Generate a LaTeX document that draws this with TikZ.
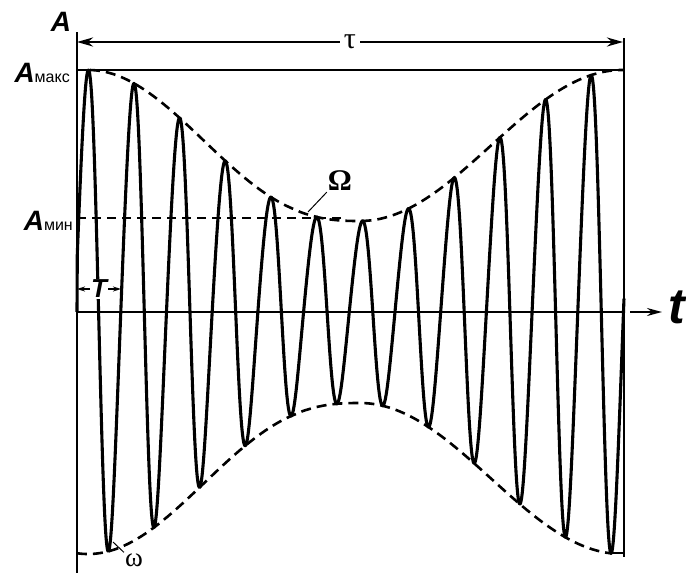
\documentclass[tikz,border=0pt]{standalone}
\usepackage{fontspec}
\setmainfont{Liberation Sans}
\newfontfamily\grk{Liberation Serif}
\usetikzlibrary{arrows.meta}
\tikzset{
  axisline/.style={line width=2.8pt},
  thinline/.style={line width=1.3pt},
  wave/.style={line width=3.1pt, line join=round},
  envel/.style={line width=2.6pt, dash pattern=on 10pt off 6pt},
  mindash/.style={line width=2pt, dash pattern=on 9pt off 6pt},
  tip/.style={-{Stealth[length=15pt,width=8pt]}},
  biglbl/.style={font=\fontsize{28}{28}\selectfont\itshape\bfseries},
  declare function={
    envL(\x)=91+151*((1-cos((360-\x)/272*180))/2+0.0001)^1.3;
    envR(\x)=91+151*(1-cos((\x-360)/262*180))/2;
    env(\x)=(\x<360)?envL(\x):envR(\x);
    ph(\x)=(\x-77)/45.7*360;
  },
}
\begin{document}
\begin{tikzpicture}[x=1pt,y=-1pt]
\useasboundingbox (0,0) rectangle (686,573);
% axes and frame
\coordinate (axtop) at (77,32);
\coordinate (axbot) at (77,573);
\coordinate (rtop) at (624,38);
\coordinate (rbot) at (624,557);
\coordinate (maxL) at (77,70);
\coordinate (maxR) at (624,70);
\coordinate (O) at (77,312);
\coordinate (axR) at (625,312);
\coordinate (arrS) at (630,312);
\coordinate (arrE) at (662,312);
\coordinate (minL) at (77,218);
\coordinate (minR) at (345,218);
\coordinate (tauL) at (77,42);
\coordinate (tauR) at (623,42);
\coordinate (TL) at (77,289);
\coordinate (TR) at (121,289);
\coordinate (trough) at (609,553);
\coordinate (troughR) at (624,553);

\draw[axisline] (axtop) -- (axbot);
\draw[axisline] (rtop) -- (rbot);
\draw[axisline] (maxL) -- (maxR);
\draw[thinline] (O) -- (axR);
\draw[line width=2pt, tip] (arrS) -- (arrE);
\draw[mindash] (minL) -- (minR);
\draw[axisline, {Stealth[length=16pt,width=9pt]}-{Stealth[length=16pt,width=9pt]}] (tauL) -- node[fill=white, inner sep=4pt, font=\fontsize{30}{30}\selectfont\grk] (tau) {τ} (tauR);
\draw[thinline] (trough) -- (troughR);

% envelopes
\draw[envel] plot[domain=90:624, samples=220] (\x, {312 - env(\x)});
\draw[envel] plot[domain=77:612, samples=220] (\x, {312 + env(\x)});

% carrier wave
\draw[wave] (O) -- plot[domain=77.3:624, samples=1500] (\x, {312 - env(\x)*sin(ph(\x) + 12 - 12*cos(ph(\x)-90))});

% T marker
\draw[line width=1.5pt, {Stealth[length=8pt,width=5pt]}-{Stealth[length=8pt,width=5pt]}] (TL) -- node[fill=white, inner sep=1pt, font=\fontsize{26}{26}\selectfont\itshape\bfseries] (T) {T} (TR);

% labels
\node[biglbl] (A) at (61,22) {A};
\node[anchor=base east, inner sep=0pt] (Amax) at (70,82) {{\fontsize{28}{28}\selectfont\itshape\bfseries A}{\fontsize{16}{16}\selectfont макс}};
\node[anchor=base east, inner sep=0pt] (Amin) at (73,230) {{\fontsize{28}{28}\selectfont\itshape\bfseries A}{\fontsize{16}{16}\selectfont мин}};
\node[font=\fontsize{50}{50}\selectfont\itshape\bfseries, inner sep=0pt] (t) at (677,307) {t};
\node[font=\fontsize{30}{30}\selectfont\grk\bfseries, inner sep=1pt] (Om) at (340,181) {Ω};
\node[font=\fontsize{27}{27}\selectfont\grk, inner sep=1pt] (om) at (134,560) {ω};
\coordinate (OmTip) at (308,212);
\coordinate (omTip) at (113,542);
\draw[line width=1pt] (OmTip) -- (Om.south west);
\draw[line width=1pt] (omTip) -- (om.north west);
\end{tikzpicture}
\end{document}
